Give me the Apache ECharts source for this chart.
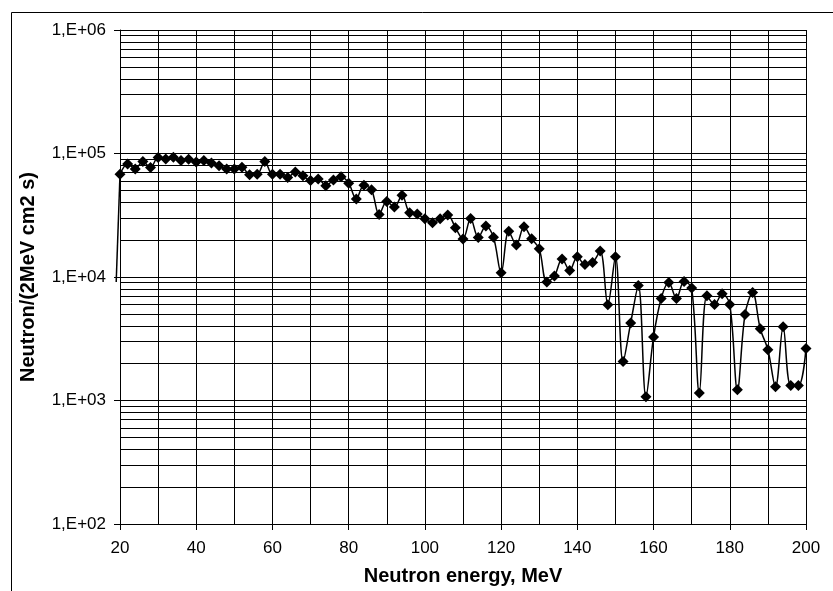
<!DOCTYPE html>
<html>
<head>
<meta charset="utf-8">
<script src="https://cdn.jsdelivr.net/npm/echarts@6/dist/echarts.min.js"></script>
<style>
    html, body {margin: 0; padding: 0; background: #fff;}
    #main {width: 833px; height: 591px;}
</style>
</head>
<body>
<div id="main"></div>
<script>
// neutron energy, MeV (first point sits just left of the axis, line only)
var energy = [19,
    20, 22, 24, 26, 28, 30, 32, 34, 36, 38,
    40, 42, 44, 46, 48, 50, 52, 54, 56, 58,
    60, 62, 64, 66, 68, 70, 72, 74, 76, 78,
    80, 82, 84, 86, 88, 90, 92, 94, 96, 98,
    100, 102, 104, 106, 108, 110, 112, 114, 116, 118,
    120, 122, 124, 126, 128, 130, 132, 134, 136, 138,
    140, 142, 144, 146, 148, 150, 152, 154, 156, 158,
    160, 162, 164, 166, 168, 170, 172, 174, 176, 178,
    180, 182, 184, 186, 188, 190, 192, 194, 196, 198,
    200];
// neutron / (2MeV cm2 s)
var flux = [9100,
    67900, 82400, 75000, 86100, 76900, 92700, 90400, 93300, 87700, 89900,
    85500, 87700, 83600, 79400, 75000, 75000, 77400, 67400, 67900, 86100,
    67900, 67900, 63800, 70900, 65900, 60400, 62200, 54900, 61100, 64700,
    57500, 42900, 55300, 50800, 32100, 40800, 36800, 46000, 33100, 32300,
    29600, 27500, 29600, 31700, 25100, 20300, 29700, 20900, 25900, 21000,
    10800, 23500, 18200, 25500, 20400, 16900, 9100, 10200, 14000, 11300,
    14600, 12600, 13100, 16200, 5950, 14600, 2070, 4250, 8540, 1070,
    3270, 6700, 9040, 6700, 9210, 8130, 1150, 7050, 6000, 7310,
    6000, 1220, 4980, 7500, 3810, 2580, 1290, 3950, 1320, 1320,
    2640];

var decades = [100, 1000, 10000, 100000];
var minorSteps = [2, 3, 4, 5, 6, 7, 8, 9];

var fontName = "'Liberation Sans', Arial, sans-serif";

// plot box
var gLeft = 120, gRight = 27, gTop = 30, gBottom = 67;
var xMin = 20, xMax = 200;
// a second, hidden grid reaching a bit further left, so the lead-in segment
// below 20 MeV is not cut off at the axis (same scale as the main grid)
var leadMin = 18;
var pxPerMeV = (833 - gLeft - gRight) / (xMax - xMin);
var leadLeft = gLeft - (xMin - leadMin) * pxPerMeV;

var points = [];
var leadPoints = [];
for (var i = 0; i < energy.length; i++) {
    if (energy[i] < xMin) {
        leadPoints.push([energy[i], flux[i]]);
    } else {
        if (leadPoints.length && points.length === 0) {
            leadPoints.push([energy[i], flux[i]]);
        }
        points.push([energy[i], flux[i]]);
    }
}

// minor log grid lines (2..9 in every decade)
var minorLines = [];
for (var d = 0; d < decades.length; d++) {
    for (var m = 0; m < minorSteps.length; m++) {
        minorLines.push({yAxis: decades[d] * minorSteps[m]});
    }
}

var option = {
    backgroundColor: '#fff',
    animation: false,
    textStyle: {fontFamily: fontName},
    graphic: [{
        type: 'rect',
        shape: {x: 11.5, y: 12.5, width: 900, height: 700},
        style: {fill: 'none', stroke: '#000', lineWidth: 1},
        silent: true
    }],
    grid: [
        {left: gLeft, right: gRight, top: gTop, bottom: gBottom, containLabel: false},
        {left: leadLeft, right: gRight, top: gTop, bottom: gBottom, containLabel: false}
    ],
    xAxis: [{
        type: 'value',
        gridIndex: 0,
        min: xMin,
        max: xMax,
        interval: 20,
        name: 'Neutron energy, MeV',
        nameLocation: 'middle',
        nameGap: 42,
        nameTextStyle: {fontSize: 20, fontWeight: 'bold', color: '#000', fontFamily: fontName},
        axisLine: {show: true, lineStyle: {color: '#000', width: 1}},
        axisTick: {show: true, length: 6, lineStyle: {color: '#000'}},
        axisLabel: {fontSize: 17, color: '#000', margin: 16, fontFamily: fontName},
        splitLine: {show: true, lineStyle: {color: '#000', width: 1}},
        minorTick: {show: false, splitNumber: 2},
        minorSplitLine: {show: true, lineStyle: {color: '#000', width: 1}}
    }, {
        type: 'value',
        gridIndex: 1,
        min: leadMin,
        max: xMax,
        show: false
    }],
    yAxis: [{
        type: 'log',
        gridIndex: 0,
        logBase: 10,
        min: 100,
        max: 1000000,
        name: 'Neutron/(2MeV cm2 s)',
        nameLocation: 'middle',
        nameGap: 82,
        nameTextStyle: {fontSize: 20, fontWeight: 'bold', color: '#000', fontFamily: fontName},
        axisLine: {show: true, lineStyle: {color: '#000', width: 1}},
        axisTick: {show: true, length: 6, lineStyle: {color: '#000'}},
        axisLabel: {
            fontSize: 17, color: '#000', margin: 14, fontFamily: fontName,
            formatter: function (v) {
                var e = Math.round(Math.log(v) / Math.LN10);
                return '1,E+' + (e < 10 ? '0' : '') + e;
            }
        },
        splitLine: {show: true, lineStyle: {color: '#000', width: 1}}
    }, {
        type: 'log',
        gridIndex: 1,
        logBase: 10,
        min: 100,
        max: 1000000,
        show: false
    }],
    series: [{
        name: 'grid',
        type: 'line',
        xAxisIndex: 0,
        yAxisIndex: 0,
        data: [],
        silent: true,
        markLine: {
            silent: true,
            symbol: ['none', 'none'],
            label: {show: false},
            lineStyle: {color: '#000', width: 1, type: 'solid'},
            animation: false,
            data: minorLines
        }
    }, {
        name: 'lead',
        type: 'line',
        xAxisIndex: 1,
        yAxisIndex: 1,
        data: leadPoints,
        symbol: 'none',
        lineStyle: {color: '#000', width: 1.5},
        z: 4
    }, {
        name: 'flux',
        type: 'line',
        xAxisIndex: 0,
        yAxisIndex: 0,
        data: points,
        smooth: 0.35,
        symbol: 'diamond',
        symbolSize: 11,
        showAllSymbol: true,
        clip: false,
        lineStyle: {color: '#000', width: 1.5},
        itemStyle: {color: '#000'},
        z: 5
    }]
};

var myChart = echarts.init(document.getElementById('main'), null, {renderer: 'canvas'});
myChart.setOption(option);
</script>
</body>
</html>
